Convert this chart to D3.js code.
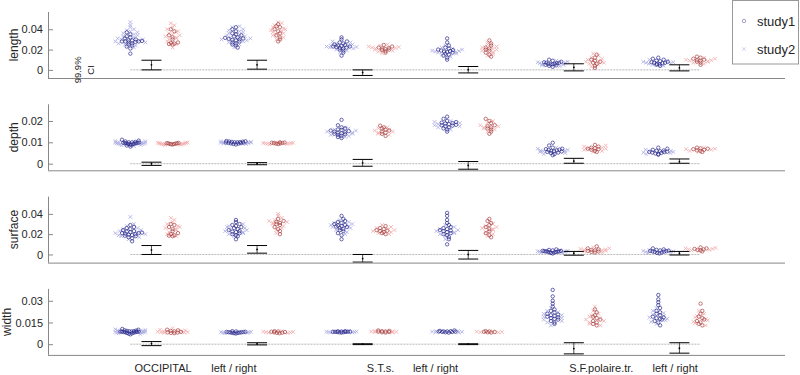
<!doctype html>
<html>
<head>
<meta charset="utf-8">
<script src="https://d3js.org/d3.v7.min.js"></script>
<style>
  body { margin: 0; background: #fff; }
  text { font-family: "Liberation Sans", Arial, sans-serif; fill: #262626; }
</style>
</head>
<body>
<svg width="800" height="375"></svg>
<script>
// ---- data (values are in units of 1e-4) ----
var groupLabels = ["OCCIPITAL", "left / right", "S.T.s.", "left / right", "S.F.polaire.tr.", "left / right"];
var labelPos = [1.55, 4.9, 11.85, 14.45, 22.3, 25.8];
var groupPos = [0, 5, 10, 15, 20, 25];
var measures = ["length", "depth", "surface", "width"];

var lengthTicks = [0, 0.02, 0.04];
var depthTicks = [0, 0.01, 0.02];
var surfaceTicks = [0, 0.02, 0.04];
var widthTicks = [0, 0.015, 0.03];

// A = first (blue) column, B = second (red) column; 1 = study1 (circles), 2 = study2 (crosses)
var lengthA1 = [
  [160,210,230,240,250,260,270,275,280,280,280,285,290,290,300,310,320,330,350,370],
  [220,240,250,260,270,280,290,295,300,305,310,315,320,330,340,350,360,380,400,420],
  [140,170,190,200,210,215,220,225,230,230,235,240,245,250,260,270,280,300,320],
  [100,120,140,150,160,170,175,180,185,190,195,200,210,220,240,270,310],
  [30,40,45,50,55,55,60,60,65,70,70,75,80,90,100],
  [40,50,55,60,65,70,70,75,80,85,90,100,110,120]];
var lengthA2 = [
  [220,240,250,260,270,280,290,300,300,310,320,330,340,350,360,370,380,390,400,420,440,470],
  [220,250,270,280,290,300,310,320,330,340,350,360,370,380,390,400,420,430],
  [170,190,200,210,220,225,230,235,240,250,260,270,280],
  [130,150,160,170,175,180,185,190,200,210,220,240],
  [35,45,50,55,60,65,70,75,80,90],
  [40,50,60,65,70,75,80,90,100]];
var lengthB1 = [
  [250,255,260,265,270,300,320,340,380,400],
  [280,300,320,340,360,380,400,420,430,450],
  [170,185,195,200,205,210,215,220,230,245],
  [130,150,170,190,200,210,220,240,260,290],
  [20,40,60,70,80,90,100,120,150],
  [50,70,80,90,95,100,110,120,130]];
var lengthB2 = [
  [220,250,280,300,310,320,330,340,350,360,370,380,400,420,440,460],
  [300,320,340,350,360,370,380,390,400,410,420,440,460,470],
  [165,180,190,200,210,215,220,225,230,240,250],
  [140,160,175,190,200,210,220,230,250,270],
  [30,50,60,70,80,90,100,110,120,140,160],
  [60,70,80,85,90,95,100,110,120]];
var lengthCI = [[0,50,95],[7,50,95],[-55,-26,0],[-30,2,33],[-10,25,60],[-10,20,50]];

var depthA1 = [
  [80,85,88,90,92,93,94,95,95,96,97,98,99,100,100,102,104,108,112],
  [90,92,94,95,96,97,98,99,100,100,101,102,103,104,105,106],
  [120,125,130,135,138,140,142,145,147,150,152,155,158,160,165,170,180,205],
  [150,160,165,170,175,178,180,182,185,188,190,192,195,200,210,220],
  [40,45,50,52,55,57,58,60,62,64,66,68,70,75,85,98],
  [42,45,48,50,52,54,55,56,58,60,62,65,70,75]];
var depthA2 = [
  [82,86,88,90,92,94,95,96,97,98,100,102,104,106],
  [92,94,96,98,99,100,101,102,104],
  [125,130,135,140,145,150,155,160,165,170],
  [160,170,175,180,185,190,195,200],
  [45,50,55,58,60,62,65,70,75],
  [45,50,52,55,58,60,65]];
var depthB1 = [
  [90,91,92,93,94,95,95,96,97],
  [92,94,95,96,97,98,99,100],
  [130,140,145,150,155,160,165,170,178],
  [140,150,160,165,170,175,180,190,200,210],
  [55,60,65,68,70,72,75,80,88],
  [55,60,62,65,68,70,72,75]];
var depthB2 = [
  [88,89,90,91,92,93,94,95,96,97,98,99],
  [90,92,93,94,95,96,97,98,100],
  [135,140,145,150,155,160,165,170],
  [150,160,165,170,175,180,190,200],
  [55,60,65,70,72,75,80,85],
  [55,60,65,68,70,75]];
var depthCI = [[-8,0,7],[-5,0,5],[-12,4,20],[-26,-8,10],[2,12,25],[2,10,22]];

var surfaceA1 = [
  [130,160,170,180,185,190,195,200,205,210,210,215,220,225,230,240,250,260,270,290],
  [150,180,190,200,210,220,225,230,240,250,260,270,280,290,300,320,340],
  [150,190,210,230,240,250,260,270,275,280,285,290,300,310,320,330,350,380],
  [100,150,170,190,200,210,220,230,235,240,250,260,270,290,310,340,380,410],
  [10,15,20,22,25,27,28,30,30,32,34,36,40,45,50],
  [10,15,20,25,28,30,32,35,38,40,45,50,60]];
var surfaceA2 = [
  [150,170,180,190,200,210,220,230,240,250,260,280,300,370],
  [180,200,210,220,230,240,250,260,270,280,300],
  [200,220,240,260,270,280,290,300,310,320,340],
  [150,180,200,210,220,230,240,250,270,290],
  [15,20,25,28,30,32,35,40,45],
  [15,20,25,30,35,40,45]];
var surfaceB1 = [
  [180,185,190,200,210,230,250,270,290,300],
  [200,230,250,270,290,300,310,320,330,350],
  [200,210,220,230,235,240,250,260,280],
  [170,190,210,230,250,270,290,310,330,350],
  [20,25,30,35,40,45,50,60,80],
  [30,40,45,50,55,60,70]];
var surfaceB2 = [
  [180,200,220,240,250,260,270,280,300,320,340,360],
  [210,240,260,280,300,310,320,330,340,360,380,400],
  [200,210,220,230,240,250,260,270,290],
  [180,200,220,240,250,260,270,280,300],
  [20,30,35,40,45,50,55,60,70],
  [35,40,45,50,55,60,65]];
var surfaceCI = [[0,45,88],[13,50,88],[-75,-40,0],[-45,0,40],[-7,12,30],[-5,12,30]];

var widthA1 = [
  [68,72,75,78,80,82,83,84,85,86,86,87,88,89,90,92,94,96,100,105],
  [74,76,78,79,80,81,82,83,84,85,86,88,90],
  [80,82,83,84,85,85,86,86,87,88,89,90],
  [80,82,84,85,86,87,88,89,90,92,95],
  [140,150,160,170,175,180,185,190,195,200,205,210,220,230,240,260,280,300,330,375],
  [130,150,160,170,175,180,185,190,200,210,220,230,250,270,290,310,340]];
var widthA2 = [
  [70,75,78,80,82,84,86,88,90,92,95,98,102],
  [76,78,80,82,84,86,88],
  [80,82,84,85,86,87,88,90],
  [80,83,85,87,89,91],
  [130,150,160,170,180,190,200,210,220,230,250],
  [140,155,165,175,185,195,205,215,230,250]];
var widthB1 = [
  [76,78,80,82,85,88,92,96,100],
  [76,78,80,82,84,86,88,90],
  [80,82,84,86,88,90,92,95],
  [80,82,84,86,88,90],
  [130,140,150,160,170,180,190,200,220,240],
  [130,140,150,160,170,180,190,210,230,280]];
var widthB2 = [
  [78,80,82,84,86,88,90,95,100,110],
  [77,79,81,83,85,87,89],
  [80,83,85,87,89,91],
  [81,83,85,87,89],
  [130,140,150,160,170,180,190,200,210,230,260],
  [130,145,155,165,175,185,195,210,230]];
var widthCI = [[-10,4,18],[-5,2,10],[-3,0,3],[-3,0,3],[-67,-30,10],[-62,-28,10]];

// ---- setup ----
var unit = 1e-4;
var panels = [
  {name: "length",  ticks: lengthTicks,  dom: [-0.008, 0.057],  a1: lengthA1,  a2: lengthA2,  b1: lengthB1,  b2: lengthB2,  ci: lengthCI},
  {name: "depth",   ticks: depthTicks,   dom: [-0.0031, 0.0278], a1: depthA1,   a2: depthA2,   b1: depthB1,   b2: depthB2,   ci: depthCI},
  {name: "surface", ticks: surfaceTicks, dom: [-0.008, 0.057],  a1: surfaceA1, a2: surfaceA2, b1: surfaceB1, b2: surfaceB2, ci: surfaceCI},
  {name: "width",   ticks: widthTicks,   dom: [-0.0074, 0.0382], a1: widthA1,   a2: widthA2,   b1: widthB1,   b2: widthB2,   ci: widthCI}
];

var svg = d3.select("svg");
var left = 48, right = 785;
var x = d3.scaleLinear().domain([-3.9, 31]).range([left, right]);
var colA = {o: "#24248a", x: "#aaaae2"};
var colB = {o: "#a83a3a", x: "#f2aaaa"};

// spread points horizontally in rows (like plotSpread)
function spread(circ, cross, y, cx) {
  var pts = circ.map(function(v) { return {v: v * unit, k: "o"}; })
    .concat(cross.map(function(v) { return {v: v * unit, k: "x"}; }));
  var bins = d3.group(pts, function(p) { return Math.round(y(p.v) / 3); });
  bins.forEach(function(members) {
    var n = members.length;
    var s = n > 1 ? Math.min(3.6, 30 / (n - 1)) : 0;
    members.forEach(function(p, i) {
      var off = i === 0 ? 0 : (i % 2 ? -1 : 1) * Math.ceil(i / 2) * s;
      if (n % 2 === 0) off += s / 2;
      p.px = cx + off;
      p.py = y(p.v);
    });
  });
  return pts;
}

function drawPoints(g, pts, col) {
  pts.filter(function(p) { return p.k === "x"; }).forEach(function(p) {
    g.append("path")
      .attr("d", "M" + (p.px - 1.8) + "," + (p.py - 1.8) + "L" + (p.px + 1.8) + "," + (p.py + 1.8) +
                 "M" + (p.px - 1.8) + "," + (p.py + 1.8) + "L" + (p.px + 1.8) + "," + (p.py - 1.8))
      .attr("stroke", col.x).attr("stroke-width", 0.8).attr("fill", "none");
  });
  pts.filter(function(p) { return p.k === "o"; }).forEach(function(p) {
    g.append("circle").attr("cx", p.px).attr("cy", p.py).attr("r", 1.7)
      .attr("fill", "none").attr("stroke", col.o).attr("stroke-width", 0.8).attr("stroke-opacity", 0.85);
  });
}

panels.forEach(function(p, i) {
  var top = 12 + i * 92.3, bottom = top + 66;
  var y = d3.scaleLinear().domain(p.dom).range([bottom, top]);
  var g = svg.append("g");

  // zero line
  g.append("line")
    .attr("x1", x(0)).attr("x2", x(27)).attr("y1", y(0)).attr("y2", y(0))
    .attr("stroke", "#999").attr("stroke-width", 0.7).attr("stroke-dasharray", "2,1");

  groupPos.forEach(function(gp, j) {
    drawPoints(g, spread(p.a1[j], p.a2[j], y, x(gp)), colA);
    drawPoints(g, spread(p.b1[j], p.b2[j], y, x(gp + 2)), colB);

    // 99.9% CI of the difference
    var c = p.ci[j], cx = x(gp + 1);
    var ci = g.append("g").attr("stroke", "#000").attr("stroke-width", 1);
    ci.append("line").attr("x1", cx - 10).attr("x2", cx + 10).attr("y1", y(c[0] * unit)).attr("y2", y(c[0] * unit));
    ci.append("line").attr("x1", cx - 10).attr("x2", cx + 10).attr("y1", y(c[2] * unit)).attr("y2", y(c[2] * unit));
    ci.append("line").attr("x1", cx).attr("x2", cx).attr("y1", y(c[0] * unit)).attr("y2", y(c[2] * unit)).attr("stroke-width", 0.7);
    g.append("circle").attr("cx", cx).attr("cy", y(c[1] * unit)).attr("r", 0.9).attr("fill", "#000");
  });

  // axes
  var ya = g.append("g").attr("transform", "translate(" + left + ",0)")
    .call(d3.axisLeft(y).tickValues(p.ticks).tickSize(-5).tickPadding(5).tickFormat(d3.format("~g")));
  ya.select(".domain").attr("stroke", "#888").attr("d", "M0.5," + top + "V" + bottom);
  ya.selectAll(".tick line").attr("stroke", "#888");
  ya.selectAll(".tick text").style("font-size", "11px").attr("fill", "#262626")
    .style("font-family", '"Liberation Sans", Arial, sans-serif');
  g.append("line").attr("x1", left).attr("x2", right).attr("y1", bottom + 0.5).attr("y2", bottom + 0.5)
    .attr("stroke", "#888");

  var minX = d3.min(ya.selectAll(".tick text").nodes(), function(n) {
    var b = n.getBBox(); return left + b.x;
  });
  g.append("text")
    .attr("transform", "translate(" + Math.max(minX - 4, 11) + "," + ((top + bottom) / 2) + ") rotate(-90)")
    .attr("text-anchor", "middle").style("font-size", "12px").text(p.name);

  if (i === 0) {
    [["99.9%", -2.34], ["CI", -1.73]].forEach(function(t) {
      g.append("text")
        .attr("transform", "translate(" + x(t[1]) + "," + y(0) + ") rotate(-90)")
        .attr("text-anchor", "middle").style("font-size", "9.5px").text(t[0]);
    });
  }
  if (i === panels.length - 1) {
    groupLabels.forEach(function(l, j) {
      g.append("text").attr("x", x(labelPos[j])).attr("y", bottom + 17)
        .attr("text-anchor", "middle").style("font-size", "11px").text(l);
    });
  }
});

// legend
var lg = svg.append("g");
lg.append("rect").attr("x", 732.5).attr("y", 0.5).attr("width", 66).attr("height", 63.5)
  .attr("fill", "#fff").attr("stroke", "#999");
lg.append("circle").attr("cx", 744).attr("cy", 21).attr("r", 1.7)
  .attr("fill", "none").attr("stroke", "#8c8cb8").attr("stroke-width", 0.8);
lg.append("path").attr("d", "M742.2,47.2L745.8,50.8M742.2,50.8L745.8,47.2")
  .attr("stroke", "#c8c8ec").attr("stroke-width", 0.8);
lg.append("text").attr("x", 757).attr("y", 25.5).style("font-size", "13px").text("study1");
lg.append("text").attr("x", 757).attr("y", 53.5).style("font-size", "13px").text("study2");
</script>
</body>
</html>
